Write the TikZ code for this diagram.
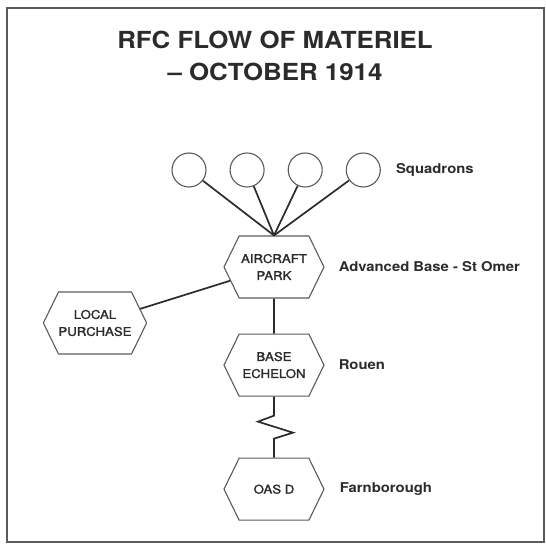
\documentclass[tikz,border=0pt]{standalone}
\usepackage{fontspec}
\setmainfont{TeX Gyre Heros}[FakeStretch=1.1]
\newfontfamily\hexfont{TeX Gyre Heros}[FakeStretch=1.1,FakeBold=1.6]
\usepackage{xcolor}
\usepackage{tikz}
\usetikzlibrary{positioning,shapes.symbols}
\definecolor{inkgrey}{HTML}{2B2B2B}
\definecolor{edgegrey}{HTML}{5A5A5A}

\begin{document}
\begin{tikzpicture}[
  x=1pt,y=1pt,
  node distance=23pt,
  hexbox/.style={draw=edgegrey,line width=1.1pt,signal,signal to=east and west,signal pointer angle=128,minimum width=100pt,minimum height=62pt,inner sep=0pt,align=center,font=\hexfont\fontsize{12}{17}\selectfont,text=inkgrey},
  sqd/.style={draw=edgegrey,line width=1.1pt,circle,minimum size=34pt,inner sep=0pt},
  place/.style={inner sep=0pt,font=\bfseries\fontsize{13.5}{16}\selectfont,text=inkgrey},
  link/.style={draw=inkgrey,line width=1.7pt}
]
\useasboundingbox (0,0) rectangle (546,550);
\draw[edgegrey,line width=1.3pt] (7,8) rectangle (544,542);
\node[anchor=north,inner sep=0pt,align=center,font=\bfseries\fontsize{23.5}{32}\selectfont,text=inkgrey] (title) at (275,519) {RFC FLOW OF MATERIEL\\-- OCTOBER 1914};
% squadrons
\node[sqd] (sq1) at (189,380) {};
\node[sqd,right=of sq1] (sq2) {};
\node[sqd,right=of sq2] (sq3) {};
\node[sqd,right=of sq3] (sq4) {};
\node[place,right=15pt of sq4] (sqlabel) {Squadrons};
% supply chain
\node[hexbox] (ap) at (274,283) {AIRCRAFT\\PARK};
\node[hexbox,below=35pt of ap] (be) {BASE\\ECHELON};
\node[hexbox,below=61pt of be] (oas) {OAS D};
\node[hexbox] (lp) at (95,227) {LOCAL\\PURCHASE};
\node[place,right=14pt of ap] (aplabel) {Advanced Base - St Omer};
\node[place,right=14pt of be] (belabel) {Rouen};
\node[place,right=15pt of oas] (oaslabel) {Farnborough};
\foreach \s in {sq1,sq2,sq3,sq4}
  \draw[link] (\s) -- (ap.north);
\draw[link] (lp) -- (ap);
\draw[link] (ap) -- (be);
\draw[link] (be.south) -- ++(0,-19) -- ++(-16,-6) -- ++(35,-11) -- ++(-19,-6) -- (oas.north);
\end{tikzpicture}
\end{document}
